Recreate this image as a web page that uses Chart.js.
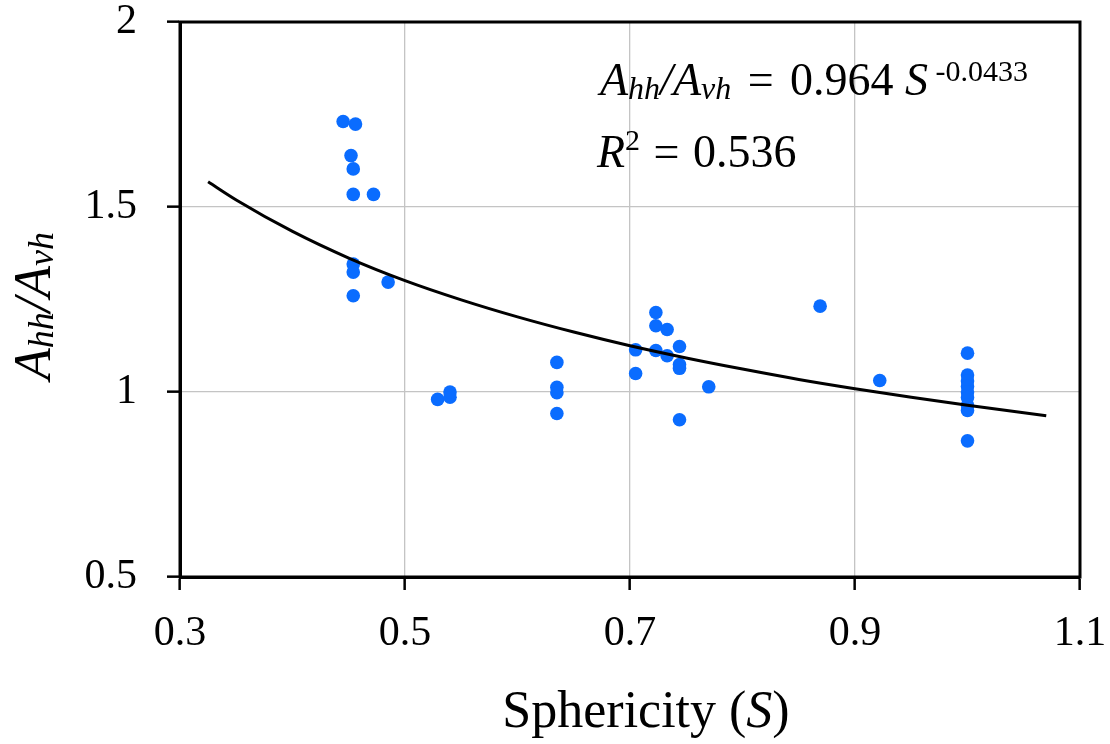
<!DOCTYPE html>
<html><head><meta charset="utf-8">
<script src="https://cdn.jsdelivr.net/npm/chart.js@4.4.1/dist/chart.umd.min.js"></script>
<style>html,body{margin:0;padding:0;background:#fff;}#wrap{width:1110px;height:744px;position:relative;}</style>
</head><body><div id="wrap"><canvas id="c" width="1110" height="744"></canvas></div>
<script>
// Measured points: sphericity S and ratio Ahh/Avh
const sphericity = [0.445,0.456,0.452,0.454,0.454,0.472,0.454,0.454,0.485,0.454,
  0.529,0.540,0.540,0.635,0.635,0.635,0.635,0.705,0.705,0.723,0.723,0.723,0.733,0.733,
  0.744,0.744,0.744,0.744,0.770,0.869,0.922,1.000,1.000,1.000,1.000,1.000,1.000,1.000,1.000,1.000];
const ratioAhhAvh = [1.731,1.724,1.639,1.603,1.534,1.534,1.346,1.324,1.297,1.260,
  0.980,0.986,1.000,1.080,1.013,0.998,0.942,1.114,1.050,1.215,1.179,1.112,1.169,1.098,
  1.123,1.074,1.064,0.925,1.014,1.232,1.031,1.105,1.046,1.030,1.015,1.000,0.985,0.965,0.950,0.868];
// Fitted trend curve
const fitS = [0.325,0.35,0.40,0.45,0.50,0.55,0.60,0.65,0.70,0.75,0.80,0.85,0.90,0.95,1.00,1.07];
const fitRatio = [1.568,1.519,1.434,1.362,1.301,1.249,1.203,1.162,1.125,1.092,1.062,1.034,1.009,0.986,0.964,0.936];
const xTicks = [0.3,0.5,0.7,0.9,1.1];
const xTickLabels = ['0.3','0.5','0.7','0.9','1.1'];
const yTicks = [0.5,1,1.5,2];
const yTickLabels = ['0.5','1','1.5','2'];

const SERIF = '"Liberation Serif", "Times New Roman", serif';

function drawRuns(ctx, runs, x, y, align){
  let total = 0;
  runs.forEach(r => { ctx.font = r.font; r.w = ctx.measureText(r.t).width + (r.gap||0); total += r.w; });
  let cx = align === 'center' ? x - total/2 : x;
  runs.forEach(r => { ctx.font = r.font; ctx.fillText(r.t, cx + (r.pre||0), y + (r.dy||0)); cx += r.w; });
}

const decor = {
  id: 'decor',
  beforeDatasetsDraw(chart){
    const {ctx, chartArea:a} = chart;
    ctx.save();
    ctx.strokeStyle = '#000'; ctx.lineWidth = 3;
    ctx.strokeRect(a.left, a.top, a.right - a.left, a.bottom - a.top);
    ctx.restore();
  },
  afterDraw(chart){
    const {ctx} = chart;
    ctx.save();
    ctx.fillStyle = '#000';
    ctx.textBaseline = 'alphabetic';
    const big = 'italic 46px ' + SERIF, sub = 'italic 32px ' + SERIF, reg = '46px ' + SERIF, sup = '30px ' + SERIF;
    // equation line 1
    drawRuns(ctx, [
      {t:'A', font:big}, {t:'hh', font:sub, dy:4}, {t:'/', font:big}, {t:'A', font:big}, {t:'vh', font:sub, dy:4},
      {t:' = ', font:reg, gap:10, pre:5}, {t:'0.964 ', font:reg}, {t:'S', font:big}, {t:' -0.0433', font:sup, dy:-14}
    ], 600, 95, 'left');
    // equation line 2
    drawRuns(ctx, [
      {t:'R', font:big}, {t:'2', font:sup, dy:-17}, {t:' = ', font:reg, gap:4, pre:2}, {t:'0.536', font:reg}
    ], 597, 167, 'left');
    // x title
    drawRuns(ctx, [
      {t:'Sphericity (', font:'52px ' + SERIF}, {t:'S', font:'italic 52px ' + SERIF}, {t:')', font:'52px ' + SERIF}
    ], 646, 727, 'center');
    // y title
    ctx.translate(50, 306);
    ctx.rotate(-Math.PI/2);
    drawRuns(ctx, [
      {t:'A', font:'italic 52px ' + SERIF}, {t:'hh', font:'italic 36px ' + SERIF, dy:3},
      {t:'/', font:'italic 52px ' + SERIF}, {t:'A', font:'italic 52px ' + SERIF}, {t:'vh', font:'italic 36px ' + SERIF, dy:3}
    ], 0, 0, 'center');
    ctx.restore();
  }
};

const gridColor = (edges) => (c) => (c.tick && edges.includes(c.tick.value)) ? 'rgba(0,0,0,0)' : '#c4c4c4';

new Chart(document.getElementById('c'), {
  type: 'scatter',
  data: {
    datasets: [
      {
        type: 'line',
        data: fitS.map((s, i) => ({x: s, y: fitRatio[i]})),
        borderColor: '#000', borderWidth: 3, pointRadius: 0, fill: false,
        cubicInterpolationMode: 'monotone', order: 0
      },
      {
        data: sphericity.map((s, i) => ({x: s, y: ratioAhhAvh[i]})),
        backgroundColor: '#0a6cff', borderColor: '#0a6cff', pointRadius: 6.8, pointBorderWidth: 0,
        order: 1
      }
    ]
  },
  options: {
    responsive: false, animation: false, devicePixelRatio: 1,
    layout: {padding: {left: 0, right: 30, top: 22, bottom: 0}},
    plugins: {legend: {display: false}, tooltip: {enabled: false}},
    scales: {
      x: {
        type: 'linear', min: 0.3, max: 1.1,
        afterBuildTicks: s => { s.ticks = xTicks.map(v => ({value: v})); },
        afterFit: s => { s.height = 167; s.paddingLeft = 0; s.paddingRight = 0; },
        ticks: {callback: (v) => xTickLabels[xTicks.indexOf(v)], color: '#000', font: {family: SERIF, size: 42}, padding: 19, maxRotation: 0},
        grid: {color: gridColor([0.3, 1.1]), lineWidth: 1.3, tickColor: '#000', tickLength: 13, tickWidth: 2.5},
        border: {color: '#000', width: 3}
      },
      y: {
        type: 'linear', min: 0.5, max: 2,
        afterBuildTicks: s => { s.ticks = yTicks.map(v => ({value: v})); },
        afterFit: s => { s.width = 180; s.paddingTop = 0; s.paddingBottom = 0; },
        ticks: {callback: (v) => yTickLabels[yTicks.indexOf(v)], color: '#000', font: {family: SERIF, size: 42}, padding: 30},
        grid: {color: gridColor([0.5, 2]), lineWidth: 1.3, tickColor: '#000', tickLength: 13, tickWidth: 2.5},
        border: {color: '#000', width: 3}
      }
    }
  },
  plugins: [decor]
});
</script></body></html>
